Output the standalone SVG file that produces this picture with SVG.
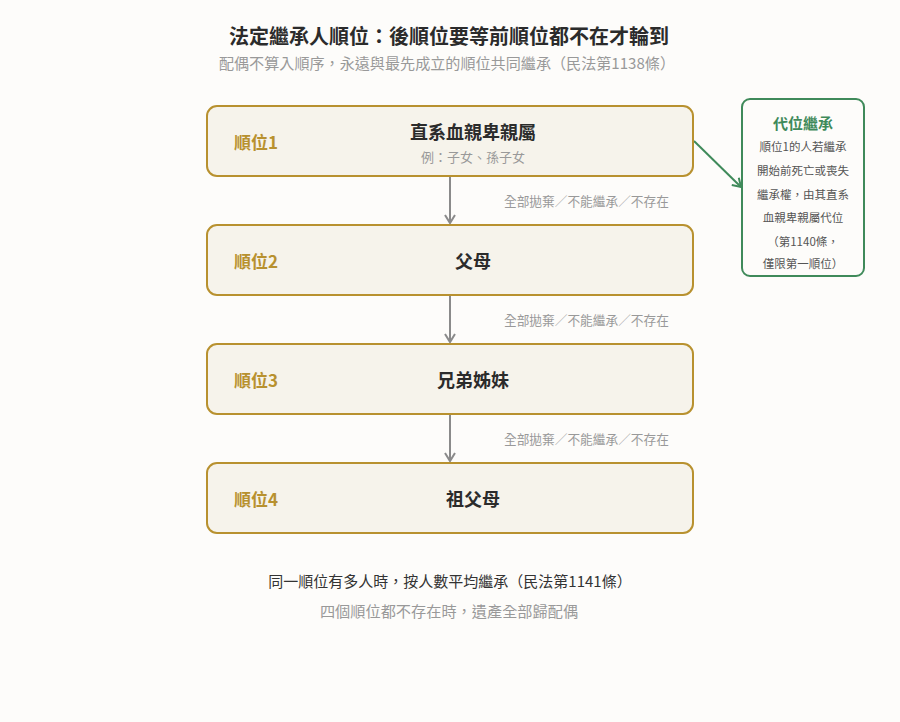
<svg xmlns="http://www.w3.org/2000/svg" width="900" height="722" viewBox="0 0 900 722">
<style>
text{font-family:"Noto Sans CJK TC","Noto Sans CJK SC",sans-serif;dominant-baseline:central}
.box{fill:#f6f3eb;stroke:#b8912f;stroke-width:2}
.lv{fill:#b8912f;font-size:17px;font-weight:700}
.main{fill:#2b2b2b;font-size:18px;font-weight:700;text-anchor:middle}
.sub{fill:#999;font-size:13px;text-anchor:middle}
.el{fill:#999;font-size:12.7px}
.g{fill:#555;font-size:11.5px;text-anchor:middle}
.down{stroke:#8a8a8a;stroke-width:2;fill:none}
</style>
<defs>
<marker id="ag" viewBox="0 0 12 12" refX="10" refY="6" markerWidth="12" markerHeight="12" markerUnits="userSpaceOnUse" orient="auto"><path d="M2,1 L10,6 L2,11" fill="none" stroke="#8a8a8a" stroke-width="2"/></marker>
<marker id="agr" viewBox="0 0 12 12" refX="10" refY="6" markerWidth="12" markerHeight="12" markerUnits="userSpaceOnUse" orient="auto"><path d="M2,1 L10,6 L2,11" fill="none" stroke="#3f8a5a" stroke-width="2"/></marker>
</defs>
<rect width="900" height="722" fill="#fdfcfa"/>
<text x="449" y="35" text-anchor="middle" font-size="20" font-weight="700" fill="#2b2b2b">法定繼承人順位：後順位要等前順位都不在才輪到</text>
<text x="447" y="62" text-anchor="middle" font-size="15.1" fill="#999">配偶不算入順序，永遠與最先成立的順位共同繼承（民法第1138條）</text>
<g id="connectors">
<line class="down" x1="450" y1="177" x2="450" y2="223" marker-end="url(#ag)"/>
<line class="down" x1="450" y1="296" x2="450" y2="342" marker-end="url(#ag)"/>
<line class="down" x1="450" y1="415" x2="450" y2="461" marker-end="url(#ag)"/>
<text class="el" x="504" y="200">全部拋棄／不能繼承／不存在</text>
<text class="el" x="504" y="319">全部拋棄／不能繼承／不存在</text>
<text class="el" x="504" y="438">全部拋棄／不能繼承／不存在</text>
<line x1="694" y1="141" x2="741" y2="187" stroke="#3f8a5a" stroke-width="2" marker-end="url(#agr)"/>
</g>
<g id="n1">
<rect class="box" x="207" y="106" width="486" height="70" rx="10"/>
<text class="lv" x="234" y="141">順位1</text>
<text class="main" x="473" y="131">直系血親卑親屬</text>
<text class="sub" x="473" y="156">例：子女、孫子女</text>
</g>
<g id="n2">
<rect class="box" x="207" y="225" width="486" height="70" rx="10"/>
<text class="lv" x="234" y="260">順位2</text>
<text class="main" x="473" y="260">父母</text>
</g>
<g id="n3">
<rect class="box" x="207" y="344" width="486" height="70" rx="10"/>
<text class="lv" x="234" y="379">順位3</text>
<text class="main" x="473" y="379">兄弟姊妹</text>
</g>
<g id="n4">
<rect class="box" x="207" y="463" width="486" height="70" rx="10"/>
<text class="lv" x="234" y="498">順位4</text>
<text class="main" x="473" y="498">祖父母</text>
</g>
<g id="side">
<rect x="742" y="99" width="122" height="177" rx="8" fill="#fdfcfa" stroke="#3f8a5a" stroke-width="2"/>
<text x="803" y="122" text-anchor="middle" font-size="15" font-weight="700" fill="#3f8a5a">代位繼承</text>
<text class="g" x="803" y="146">順位1的人若繼承</text>
<text class="g" x="803" y="170">開始前死亡或喪失</text>
<text class="g" x="803" y="194">繼承權，由其直系</text>
<text class="g" x="803" y="217">血親卑親屬代位</text>
<text class="g" x="803" y="241">（第1140條，</text>
<text class="g" x="803" y="263">僅限第一順位）</text>
</g>
<text x="450" y="580" text-anchor="middle" font-size="15" fill="#333">同一順位有多人時，按人數平均繼承（民法第1141條）</text>
<text x="449" y="610" text-anchor="middle" font-size="15.2" fill="#999">四個順位都不存在時，遺產全部歸配偶</text>
</svg>
